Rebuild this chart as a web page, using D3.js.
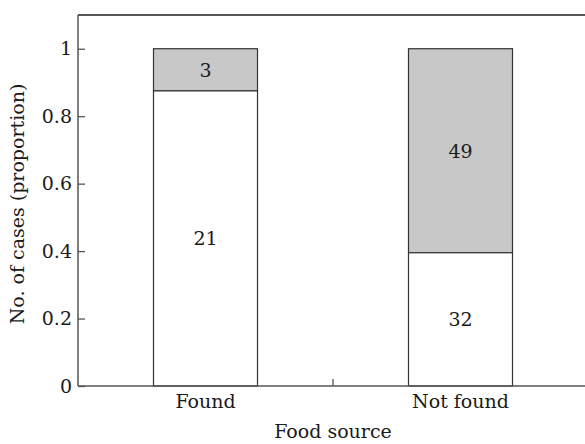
<!DOCTYPE html>
<html>
<head>
<meta charset="utf-8">
<script src="https://cdn.jsdelivr.net/npm/d3@7"></script>
<style>
  html, body { margin: 0; padding: 0; background: #fff; }
  svg { display: block; }
  text { font-family: "DejaVu Serif", "Liberation Serif", serif; fill: #1a1a1a; }
</style>
</head>
<body>
<svg id="chart" width="585" height="444"></svg>
<script>
// Counts of cases per food-source outcome
const categories = ["Found", "Not found"];
const countLower = [21, 32];   // white (bottom) segment
const countUpper = [3, 49];    // grey (top) segment
const yTicks = [0, 0.2, 0.4, 0.6, 0.8, 1];
const yTickLabels = ["0", "0.2", "0.4", "0.6", "0.8", "1"];

const svg = d3.select("#chart");
const plotLeft = 78, plotRight = 588, plotTop = 15, plotBottom = 386;
const fontSize = 19;

const x = d3.scaleBand().domain(categories).range([plotLeft, plotRight]);
const y = d3.scaleLinear().domain([0, 1.1]).range([plotBottom, plotTop]);

const barW = 104;
const rows = categories.map((c, i) => {
  const total = countLower[i] + countUpper[i];
  return { cat: c, lo: countLower[i], hi: countUpper[i], p: countLower[i] / total };
});

// Bars
const g = svg.append("g");
rows.forEach(r => {
  const cx = x(r.cat) + x.bandwidth() / 2;
  g.append("rect")
    .attr("x", cx - barW / 2).attr("width", barW)
    .attr("y", y(1)).attr("height", y(r.p) - y(1))
    .attr("fill", "#c8c8c8").attr("stroke", "#333").attr("stroke-width", 1.2);
  g.append("rect")
    .attr("x", cx - barW / 2).attr("width", barW)
    .attr("y", y(r.p)).attr("height", y(0) - y(r.p))
    .attr("fill", "#fff").attr("stroke", "#333").attr("stroke-width", 1.2);
  g.append("text")
    .attr("x", cx).attr("y", (y(1) + y(r.p)) / 2)
    .attr("text-anchor", "middle").attr("dominant-baseline", "central")
    .attr("font-size", fontSize).text(r.hi);
  g.append("text")
    .attr("x", cx).attr("y", (y(r.p) + y(0)) / 2)
    .attr("text-anchor", "middle").attr("dominant-baseline", "central")
    .attr("font-size", fontSize).text(r.lo);
});

// Frame lines
const axisColor = "#555";
svg.append("line").attr("x1", plotLeft).attr("x2", 590).attr("y1", plotTop).attr("y2", plotTop)
  .attr("stroke", axisColor).attr("stroke-width", 2);
svg.append("line").attr("x1", plotLeft).attr("x2", plotLeft).attr("y1", plotTop).attr("y2", plotBottom)
  .attr("stroke", axisColor).attr("stroke-width", 1.5);
svg.append("line").attr("x1", plotLeft).attr("x2", 590).attr("y1", plotBottom).attr("y2", plotBottom)
  .attr("stroke", axisColor).attr("stroke-width", 1.5);

// Y axis (ticks pointing inward)
const yAxis = svg.append("g").attr("transform", `translate(${plotLeft},0)`)
  .call(d3.axisRight(y).tickValues(yTicks).tickSize(7)
    .tickFormat((d, i) => yTickLabels[i]));
yAxis.select(".domain").remove();
yAxis.selectAll(".tick line").attr("stroke", axisColor).attr("stroke-width", 1.3);
yAxis.selectAll(".tick text")
  .attr("x", -6).attr("text-anchor", "end")
  .attr("font-size", fontSize).attr("font-family", "DejaVu Serif").attr("fill", "#1a1a1a");

// X axis: category labels, tick at band boundary pointing inward
const xAxis = svg.append("g").attr("transform", `translate(0,${plotBottom})`)
  .call(d3.axisBottom(x).tickSize(0).tickPadding(9));
xAxis.select(".domain").remove();
xAxis.selectAll(".tick text")
  .attr("font-size", fontSize).attr("font-family", "DejaVu Serif").attr("fill", "#1a1a1a")
  .attr("dy", "0.71em");
svg.append("line")
  .attr("x1", x(categories[1])).attr("x2", x(categories[1]))
  .attr("y1", plotBottom).attr("y2", plotBottom - 7)
  .attr("stroke", axisColor).attr("stroke-width", 1.3);

// Axis titles
svg.append("text").attr("x", (plotLeft + plotRight) / 2).attr("y", 438)
  .attr("text-anchor", "middle").attr("font-size", fontSize).text("Food source");
svg.append("text")
  .attr("transform", `translate(24,204) rotate(-90)`)
  .attr("text-anchor", "middle").attr("font-size", fontSize).text("No. of cases (proportion)");
</script>
</body>
</html>
